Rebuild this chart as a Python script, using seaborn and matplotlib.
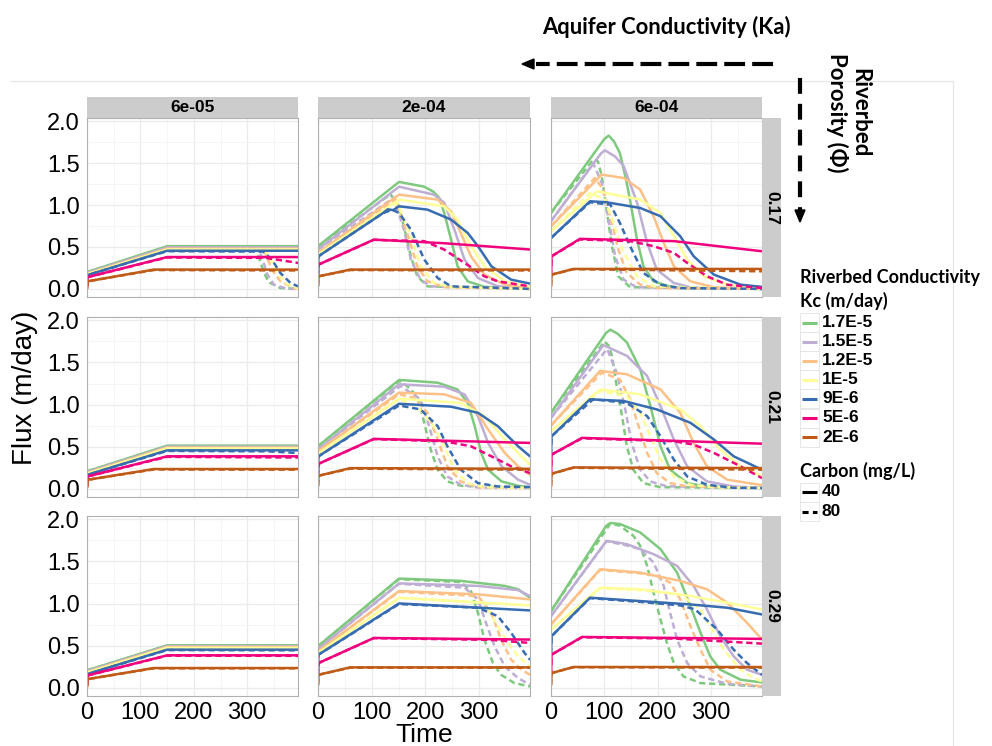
import numpy as np
import pandas as pd
import matplotlib.pyplot as plt
import seaborn as sns
from matplotlib.patches import Rectangle, Polygon

W, H = 992, 746

kc_levels = ["1.7E-5", "1.5E-5", "1.2E-5", "1E-5", "9E-6", "5E-6", "2E-6"]
kc_colors = ["#7FC97F", "#BEAED4", "#FDC086", "#FFFF99", "#386CB0", "#F0027F", "#BF5B17"]
carbon_levels = ["40", "80"]
ka_levels = ["6e-05", "2e-04", "6e-04"]
phi_levels = ["0.17", "0.21", "0.29"]

#! (time, flux) points, Kc -> points

# porosity 0.17
phi017_ka6e05_c40 = {
    "1.7E-5": [(0, 0.20), (150, 0.51), (395, 0.51)],
    "1.5E-5": [(0, 0.19), (150, 0.495), (395, 0.495)],
    "1.2E-5": [(0, 0.18), (150, 0.48), (395, 0.48)],
    "1E-5": [(0, 0.175), (150, 0.47), (395, 0.47)],
    "9E-6": [(0, 0.10), (1, 0.165), (150, 0.455), (395, 0.455)],
    "5E-6": [(0, 0.03), (1, 0.14), (150, 0.38), (395, 0.38)],
    "2E-6": [(0, 0.0), (1, 0.09), (125, 0.23), (395, 0.23)],
}
phi017_ka6e05_c80 = {
    "1.7E-5": [(0, 0.20), (150, 0.50), (315, 0.49), (321, 0.39), (331, 0.20), (340, 0.08), (362, 0.01), (395, 0.0)],
    "1.5E-5": [(0, 0.19), (150, 0.485), (320, 0.48), (328, 0.37), (337, 0.18), (350, 0.05), (375, 0.0), (395, 0.0)],
    "1.2E-5": [(0, 0.18), (150, 0.475), (325, 0.47), (334, 0.43), (346, 0.23), (362, 0.09), (387, 0.01), (395, 0.0)],
    "1E-5": [(0, 0.175), (150, 0.465), (330, 0.46), (340, 0.41), (356, 0.20), (371, 0.07), (393, 0.01), (395, 0.01)],
    "9E-6": [(0, 0.10), (1, 0.165), (150, 0.45), (330, 0.445), (346, 0.35), (362, 0.19), (381, 0.07), (395, 0.03)],
    "5E-6": [(0, 0.03), (1, 0.14), (150, 0.375), (335, 0.37), (395, 0.31)],
    "2E-6": [(0, 0.0), (1, 0.09), (125, 0.225), (395, 0.22)],
}
phi017_ka2e04_c40 = {
    "1.7E-5": [(0, 0.51), (151, 1.277), (198, 1.22), (215, 1.16), (226, 1.086), (235, 0.91), (248, 0.588), (260, 0.27), (279, 0.09), (310, 0.024), (395, 0.0)],
    "1.5E-5": [(0, 0.47), (151, 1.22), (216, 1.125), (235, 1.03), (254, 0.71), (273, 0.35), (298, 0.13), (335, 0.031), (395, 0.003)],
    "1.2E-5": [(0, 0.43), (151, 1.125), (223, 1.066), (248, 0.925), (266, 0.667), (285, 0.388), (310, 0.17), (348, 0.05), (395, 0.01)],
    "1E-5": [(0, 0.41), (151, 1.066), (235, 0.986), (260, 0.827), (285, 0.51), (310, 0.27), (348, 0.09), (395, 0.024)],
    "9E-6": [(0, 0.25), (1, 0.39), (120, 0.90), (130, 0.95), (140, 0.94), (151, 0.986), (204, 0.946), (248, 0.827), (279, 0.667), (298, 0.51), (323, 0.27), (360, 0.11), (395, 0.063)],
    "5E-6": [(0, 0.15), (1, 0.29), (104, 0.588), (235, 0.545), (395, 0.47)],
    "2E-6": [(0, 0.03), (1, 0.15), (60, 0.23), (395, 0.23)],
}
phi017_ka2e04_c80 = {
    "1.7E-5": [(0, 0.50), (135, 1.13), (151, 0.986), (163, 0.667), (173, 0.388), (185, 0.15), (204, 0.03), (395, 0.0)],
    "1.5E-5": [(0, 0.47), (141, 1.086), (160, 0.71), (173, 0.35), (191, 0.11), (210, 0.03), (395, 0.0)],
    "1.2E-5": [(0, 0.43), (145, 1.066), (166, 0.667), (185, 0.27), (204, 0.09), (235, 0.02), (395, 0.0)],
    "1E-5": [(0, 0.41), (148, 1.026), (173, 0.627), (191, 0.27), (216, 0.07), (248, 0.02), (395, 0.0)],
    "9E-6": [(0, 0.25), (1, 0.39), (120, 0.90), (138, 0.946), (151, 0.906), (173, 0.71), (198, 0.35), (223, 0.13), (248, 0.03), (395, 0.0)],
    "5E-6": [(0, 0.15), (1, 0.29), (104, 0.585), (198, 0.57), (235, 0.47), (273, 0.31), (310, 0.15), (335, 0.09), (395, 0.03)],
    "2E-6": [(0, 0.03), (1, 0.15), (60, 0.225), (395, 0.22)],
}
phi017_ka6e04_c40 = {
    "1.7E-5": [(0, 0.907), (100, 1.79), (108, 1.83), (118, 1.76), (129, 1.62), (140, 1.32), (148, 1.06), (161, 0.589), (173, 0.27), (192, 0.09), (230, 0.012), (395, 0.0)],
    "1.5E-5": [(0, 0.808), (94, 1.62), (101, 1.654), (120, 1.58), (136, 1.468), (161, 1.03), (180, 0.55), (198, 0.23), (230, 0.07), (267, 0.01), (395, 0.0)],
    "1.2E-5": [(0, 0.748), (95, 1.364), (136, 1.324), (167, 1.185), (192, 0.867), (211, 0.55), (230, 0.27), (261, 0.09), (305, 0.02), (395, 0.0)],
    "1E-5": [(0, 0.687), (86, 1.165), (167, 1.066), (205, 0.907), (230, 0.628), (255, 0.35), (286, 0.15), (330, 0.05), (395, 0.01)],
    "9E-6": [(0, 0.607), (73, 1.046), (104, 1.034), (167, 0.966), (205, 0.867), (242, 0.628), (267, 0.39), (305, 0.17), (355, 0.05), (395, 0.024)],
    "5E-6": [(0, 0.15), (1, 0.389), (54, 0.597), (230, 0.57), (395, 0.449)],
    "2E-6": [(0, 0.03), (1, 0.17), (42, 0.238), (395, 0.238)],
}
phi017_ka6e04_c80 = {
    "1.7E-5": [(0, 0.907), (80, 1.55), (88, 1.52), (95, 1.344), (104, 0.947), (114, 0.51), (126, 0.15), (148, 0.02), (395, 0.0)],
    "1.5E-5": [(0, 0.808), (79, 1.50), (95, 1.264), (108, 0.826), (120, 0.39), (136, 0.11), (160, 0.02), (395, 0.0)],
    "1.2E-5": [(0, 0.748), (82, 1.324), (98, 1.185), (111, 0.867), (126, 0.47), (142, 0.19), (167, 0.05), (198, 0.01), (395, 0.0)],
    "1E-5": [(0, 0.687), (73, 1.145), (101, 1.066), (117, 0.787), (136, 0.43), (161, 0.15), (192, 0.03), (395, 0.0)],
    "9E-6": [(0, 0.607), (73, 1.034), (111, 1.006), (129, 0.787), (148, 0.51), (173, 0.19), (205, 0.05), (242, 0.01), (395, 0.0)],
    "5E-6": [(0, 0.15), (1, 0.389), (54, 0.59), (148, 0.57), (192, 0.51), (230, 0.43), (255, 0.31), (292, 0.15), (330, 0.05), (395, 0.01)],
    "2E-6": [(0, 0.03), (1, 0.17), (42, 0.235), (395, 0.21)],
}

# porosity 0.21
phi021_ka6e05_c40 = {
    "1.7E-5": [(0, 0.207), (150, 0.513), (395, 0.513)],
    "1.5E-5": [(0, 0.197), (150, 0.50), (395, 0.50)],
    "1.2E-5": [(0, 0.187), (150, 0.49), (395, 0.49)],
    "1E-5": [(0, 0.18), (150, 0.48), (395, 0.48)],
    "9E-6": [(0, 0.10), (1, 0.167), (150, 0.457), (395, 0.457)],
    "5E-6": [(0, 0.03), (1, 0.147), (150, 0.386), (395, 0.386)],
    "2E-6": [(0, 0.01), (1, 0.107), (125, 0.235), (395, 0.235)],
}
phi021_ka6e05_c80 = {
    "1.7E-5": [(0, 0.207), (150, 0.505), (395, 0.50)],
    "1.5E-5": [(0, 0.197), (150, 0.495), (395, 0.49)],
    "1.2E-5": [(0, 0.187), (150, 0.485), (395, 0.48)],
    "1E-5": [(0, 0.18), (150, 0.475), (395, 0.47)],
    "9E-6": [(0, 0.10), (1, 0.167), (150, 0.45), (340, 0.445), (395, 0.425)],
    "5E-6": [(0, 0.03), (1, 0.147), (150, 0.38), (395, 0.372)],
    "2E-6": [(0, 0.01), (1, 0.107), (125, 0.23), (395, 0.228)],
}
phi021_ka2e04_c40 = {
    "1.7E-5": [(0, 0.505), (151, 1.293), (223, 1.26), (260, 1.18), (279, 1.02), (292, 0.744), (304, 0.426), (317, 0.227), (342, 0.088), (373, 0.036), (395, 0.02)],
    "1.5E-5": [(0, 0.466), (151, 1.241), (235, 1.213), (273, 1.122), (298, 0.863), (317, 0.545), (342, 0.267), (373, 0.108), (395, 0.048)],
    "1.2E-5": [(0, 0.446), (151, 1.142), (235, 1.122), (285, 1.02), (317, 0.704), (348, 0.426), (373, 0.267), (395, 0.167)],
    "1E-5": [(0, 0.418), (151, 1.07), (266, 1.02), (310, 0.863), (348, 0.585), (379, 0.386), (395, 0.287)],
    "9E-6": [(0, 0.25), (1, 0.386), (151, 1.01), (248, 0.975), (298, 0.903), (335, 0.744), (373, 0.505), (395, 0.386)],
    "5E-6": [(0, 0.15), (1, 0.297), (104, 0.593), (395, 0.545)],
    "2E-6": [(0, 0.03), (1, 0.155), (60, 0.246), (395, 0.238)],
}
phi021_ka2e04_c80 = {
    "1.7E-5": [(0, 0.505), (151, 1.28), (166, 1.221), (185, 1.10), (198, 0.783), (210, 0.466), (223, 0.227), (241, 0.088), (266, 0.036), (395, 0.01)],
    "1.5E-5": [(0, 0.466), (154, 1.221), (191, 1.063), (207, 0.744), (223, 0.386), (241, 0.147), (266, 0.048), (300, 0.015), (395, 0.01)],
    "1.2E-5": [(0, 0.446), (151, 1.122), (179, 1.082), (204, 0.903), (223, 0.585), (241, 0.267), (266, 0.088), (298, 0.02), (395, 0.01)],
    "1E-5": [(0, 0.418), (151, 1.063), (185, 0.983), (216, 0.744), (235, 0.505), (254, 0.227), (279, 0.068), (310, 0.02), (395, 0.01)],
    "9E-6": [(0, 0.25), (1, 0.386), (151, 0.99), (191, 0.943), (223, 0.744), (241, 0.505), (266, 0.227), (298, 0.068), (335, 0.028), (395, 0.02)],
    "5E-6": [(0, 0.15), (1, 0.297), (104, 0.59), (235, 0.565), (285, 0.505), (323, 0.386), (360, 0.267), (395, 0.187)],
    "2E-6": [(0, 0.03), (1, 0.155), (60, 0.24), (395, 0.227)],
}
phi021_ka6e04_c40 = {
    "1.7E-5": [(0, 0.903), (103, 1.85), (111, 1.89), (125, 1.84), (142, 1.738), (167, 1.42), (186, 0.983), (205, 0.505), (223, 0.227), (255, 0.068), (292, 0.028), (395, 0.01)],
    "1.5E-5": [(0, 0.843), (98, 1.706), (142, 1.579), (180, 1.34), (205, 0.983), (230, 0.585), (255, 0.267), (292, 0.088), (342, 0.028), (395, 0.01)],
    "1.2E-5": [(0, 0.752), (92, 1.40), (142, 1.36), (205, 1.18), (242, 0.903), (267, 0.545), (292, 0.267), (330, 0.108), (395, 0.044)],
    "1E-5": [(0, 0.684), (92, 1.18), (167, 1.122), (242, 0.943), (280, 0.744), (317, 0.466), (355, 0.267), (395, 0.147)],
    "9E-6": [(0, 0.40), (1, 0.624), (73, 1.063), (136, 1.043), (198, 0.943), (261, 0.784), (305, 0.585), (342, 0.386), (395, 0.227)],
    "5E-6": [(0, 0.15), (1, 0.406), (58, 0.605), (395, 0.536)],
    "2E-6": [(0, 0.03), (1, 0.179), (42, 0.254), (395, 0.246)],
}
phi021_ka6e04_c80 = {
    "1.7E-5": [(0, 0.903), (100, 1.75), (108, 1.70), (114, 1.579), (123, 1.22), (133, 0.863), (142, 0.505), (154, 0.227), (173, 0.068), (204, 0.02), (395, 0.01)],
    "1.5E-5": [(0, 0.843), (105, 1.66), (123, 1.38), (139, 0.943), (151, 0.545), (167, 0.227), (186, 0.088), (217, 0.03), (395, 0.01)],
    "1.2E-5": [(0, 0.752), (95, 1.38), (129, 1.30), (148, 1.063), (164, 0.744), (180, 0.426), (198, 0.187), (223, 0.068), (255, 0.03), (395, 0.01)],
    "1E-5": [(0, 0.684), (92, 1.16), (142, 1.10), (167, 0.903), (186, 0.624), (205, 0.346), (230, 0.147), (261, 0.048), (305, 0.02), (395, 0.01)],
    "9E-6": [(0, 0.40), (1, 0.624), (79, 1.063), (142, 1.02), (180, 0.863), (205, 0.624), (230, 0.346), (255, 0.147), (292, 0.048), (342, 0.012), (395, 0.01)],
    "5E-6": [(0, 0.15), (1, 0.406), (58, 0.60), (230, 0.565), (267, 0.525), (305, 0.426), (355, 0.267), (395, 0.127)],
    "2E-6": [(0, 0.03), (1, 0.179), (42, 0.25), (395, 0.227)],
}

# porosity 0.29
phi029_ka6e05_c40 = {
    "1.7E-5": [(0, 0.207), (150, 0.505), (395, 0.505)],
    "1.5E-5": [(0, 0.197), (150, 0.495), (395, 0.495)],
    "1.2E-5": [(0, 0.187), (150, 0.485), (395, 0.485)],
    "1E-5": [(0, 0.18), (150, 0.475), (395, 0.475)],
    "9E-6": [(0, 0.10), (1, 0.165), (150, 0.453), (395, 0.453)],
    "5E-6": [(0, 0.03), (1, 0.147), (150, 0.386), (395, 0.386)],
    "2E-6": [(0, 0.01), (1, 0.103), (125, 0.235), (395, 0.235)],
}
phi029_ka6e05_c80 = {
    "1.7E-5": [(0, 0.207), (150, 0.50), (395, 0.50)],
    "1.5E-5": [(0, 0.197), (150, 0.49), (395, 0.49)],
    "1.2E-5": [(0, 0.187), (150, 0.48), (395, 0.48)],
    "1E-5": [(0, 0.18), (150, 0.47), (395, 0.47)],
    "9E-6": [(0, 0.10), (1, 0.165), (150, 0.448), (395, 0.445)],
    "5E-6": [(0, 0.03), (1, 0.147), (150, 0.382), (395, 0.38)],
    "2E-6": [(0, 0.01), (1, 0.103), (125, 0.232), (395, 0.232)],
}
phi029_ka2e04_c40 = {
    "1.7E-5": [(0, 0.493), (151, 1.297), (266, 1.27), (348, 1.21), (373, 1.17), (395, 1.07)],
    "1.5E-5": [(0, 0.46), (151, 1.24), (298, 1.21), (373, 1.16), (395, 1.09)],
    "1.2E-5": [(0, 0.433), (151, 1.149), (298, 1.11), (395, 1.05)],
    "1E-5": [(0, 0.413), (151, 1.07), (395, 0.978)],
    "9E-6": [(0, 0.25), (1, 0.394), (151, 1.002), (395, 0.919)],
    "5E-6": [(0, 0.15), (1, 0.294), (104, 0.592), (395, 0.573)],
    "2E-6": [(0, 0.03), (1, 0.155), (60, 0.243), (395, 0.243)],
}
phi029_ka2e04_c80 = {
    "1.7E-5": [(0, 0.493), (151, 1.29), (266, 1.256), (285, 1.149), (298, 0.89), (310, 0.573), (326, 0.294), (341, 0.155), (366, 0.056), (395, 0.016)],
    "1.5E-5": [(0, 0.46), (151, 1.235), (273, 1.189), (298, 1.05), (313, 0.771), (329, 0.493), (348, 0.254), (373, 0.115), (395, 0.036)],
    "1.2E-5": [(0, 0.433), (151, 1.14), (298, 1.09), (323, 0.89), (341, 0.573), (360, 0.334), (379, 0.215), (395, 0.155)],
    "1E-5": [(0, 0.413), (151, 1.065), (310, 1.01), (335, 0.732), (354, 0.533), (373, 0.374), (395, 0.254)],
    "9E-6": [(0, 0.25), (1, 0.394), (151, 0.995), (298, 0.951), (335, 0.851), (360, 0.652), (385, 0.413), (395, 0.334)],
    "5E-6": [(0, 0.15), (1, 0.294), (104, 0.59), (320, 0.57), (395, 0.533)],
    "2E-6": [(0, 0.03), (1, 0.155), (60, 0.24), (395, 0.24)],
}
phi029_ka6e04_c40 = {
    "1.7E-5": [(0, 0.91), (103, 1.92), (111, 1.957), (129, 1.945), (167, 1.845), (205, 1.647), (236, 1.368), (261, 0.971), (280, 0.652), (298, 0.374), (317, 0.215), (355, 0.096), (395, 0.064)],
    "1.5E-5": [(0, 0.851), (104, 1.746), (142, 1.706), (192, 1.587), (236, 1.448), (267, 1.209), (292, 0.931), (317, 0.612), (342, 0.374), (367, 0.215), (395, 0.155)],
    "1.2E-5": [(0, 0.752), (92, 1.408), (167, 1.368), (242, 1.269), (292, 1.17), (330, 1.01), (367, 0.772), (395, 0.573)],
    "1E-5": [(0, 0.692), (92, 1.189), (167, 1.17), (261, 1.09), (330, 1.01), (395, 0.931)],
    "9E-6": [(0, 0.40), (1, 0.613), (73, 1.07), (167, 1.03), (261, 0.99), (330, 0.951), (395, 0.871)],
    "5E-6": [(0, 0.15), (1, 0.394), (58, 0.604), (395, 0.581)],
    "2E-6": [(0, 0.03), (1, 0.175), (42, 0.247), (395, 0.247)],
}
phi029_ka6e04_c80 = {
    "1.7E-5": [(0, 0.91), (111, 1.95), (129, 1.925), (154, 1.806), (167, 1.686), (180, 1.448), (192, 1.13), (205, 0.811), (217, 0.533), (230, 0.294), (248, 0.135), (280, 0.056), (395, 0.016)],
    "1.5E-5": [(0, 0.851), (104, 1.74), (142, 1.69), (167, 1.646), (192, 1.488), (211, 1.209), (223, 0.891), (236, 0.573), (255, 0.294), (280, 0.135), (330, 0.048), (395, 0.016)],
    "1.2E-5": [(0, 0.752), (92, 1.40), (167, 1.36), (198, 1.329), (223, 1.249), (242, 1.05), (261, 0.732), (280, 0.453), (298, 0.215), (330, 0.076), (395, 0.016)],
    "1E-5": [(0, 0.692), (92, 1.18), (167, 1.16), (242, 1.11), (280, 0.931), (305, 0.652), (323, 0.453), (355, 0.215), (380, 0.115), (395, 0.076)],
    "9E-6": [(0, 0.40), (1, 0.613), (73, 1.065), (167, 1.02), (242, 0.979), (270, 0.931), (311, 0.692), (342, 0.453), (367, 0.294), (395, 0.155)],
    "5E-6": [(0, 0.15), (1, 0.394), (58, 0.60), (230, 0.585), (395, 0.525)],
    "2E-6": [(0, 0.03), (1, 0.175), (42, 0.245), (395, 0.24)],
}

panels = {
    ("0.17", "6e-05"): (phi017_ka6e05_c40, phi017_ka6e05_c80),
    ("0.17", "2e-04"): (phi017_ka2e04_c40, phi017_ka2e04_c80),
    ("0.17", "6e-04"): (phi017_ka6e04_c40, phi017_ka6e04_c80),
    ("0.21", "6e-05"): (phi021_ka6e05_c40, phi021_ka6e05_c80),
    ("0.21", "2e-04"): (phi021_ka2e04_c40, phi021_ka2e04_c80),
    ("0.21", "6e-04"): (phi021_ka6e04_c40, phi021_ka6e04_c80),
    ("0.29", "6e-05"): (phi029_ka6e05_c40, phi029_ka6e05_c80),
    ("0.29", "2e-04"): (phi029_ka2e04_c40, phi029_ka2e04_c80),
    ("0.29", "6e-04"): (phi029_ka6e04_c40, phi029_ka6e04_c80),
}

rows = []
for (phi, ka), (c40, c80) in panels.items():
    for carbon, curves in (("40", c40), ("80", c80)):
        for kc, pts in curves.items():
            for t, f in pts:
                rows.append((phi, ka, kc, carbon, t, f))
df = pd.DataFrame(rows, columns=["phi", "ka", "kc", "carbon", "time", "flux"])

sns.set_style("white")
plt.rcParams["font.family"] = ["Liberation Sans", "DejaVu Sans"]
plt.rcParams["text.color"] = "black"
title_font = ["Lato", "DejaVu Sans"]

fig = plt.figure(figsize=(W / 100, H / 100), dpi=100)


def box(x0, y0, x1, y1):
    return [x0 / W, 1 - y1 / H, (x1 - x0) / W, (y1 - y0) / H]


col_px = [(87, 298), (318, 530), (551, 762)]
row_px = [(118, 297), (317, 497), (516, 696)]
strip_gray = "#CCCCCC"

for i, phi in enumerate(phi_levels):
    for j, ka in enumerate(ka_levels):
        x0, x1 = col_px[j]
        y0, y1 = row_px[i]
        ax = fig.add_axes(box(x0, y0, x1, y1))
        sub = df[(df.phi == phi) & (df.ka == ka)]
        sns.lineplot(data=sub, x="time", y="flux", hue="kc", hue_order=kc_levels,
                     palette=kc_colors, style="carbon", style_order=carbon_levels,
                     dashes={"40": "", "80": (2.5, 1.5)}, estimator=None, sort=False,
                     linewidth=1.8, legend=False, ax=ax)
        ax.set_xlim(0, 395)
        ax.set_ylim(-0.097, 2.04)
        ax.set_xticks([0, 100, 200, 300])
        ax.set_xticks([50, 150, 250, 350], minor=True)
        ax.set_yticks([0, 0.5, 1.0, 1.5, 2.0])
        ax.set_yticks([0.25, 0.75, 1.25, 1.75], minor=True)
        ax.grid(which="major", color="#EBEBEB", lw=0.9)
        ax.grid(which="minor", color="#F4F4F4", lw=0.6)
        ax.set_axisbelow(True)
        for s in ax.spines.values():
            s.set_color("#B0B0B0")
            s.set_linewidth(0.8)
        ax.set_xlabel("")
        ax.set_ylabel("")
        ax.tick_params(which="minor", length=0)
        ax.tick_params(which="major", length=4, width=0.8, color="#444444",
                       labelsize=17, labelcolor="black", pad=1)
        if j == 0:
            ax.set_yticklabels(["0.0", "0.5", "1.0", "1.5", "2.0"])
        else:
            ax.tick_params(axis="y", length=0, labelleft=False)
        if i != 2:
            ax.tick_params(axis="x", length=0, labelbottom=False)
        else:
            ax.tick_params(axis="x", pad=0)

        if i == 0:
            sax = fig.add_axes(box(x0, 97, x1, y0))
            sax.set_facecolor(strip_gray)
            sax.set_xticks([])
            sax.set_yticks([])
            for s in sax.spines.values():
                s.set_visible(False)
            sax.text(0.5, 0.5, ka, ha="center", va="center", fontsize=12.5, color="black",
                     fontweight="bold", family=["Liberation Sans"], transform=sax.transAxes)
        if j == 2:
            rax = fig.add_axes(box(x1, y0, 781, y1))
            rax.set_facecolor(strip_gray)
            rax.set_xticks([])
            rax.set_yticks([])
            for s in rax.spines.values():
                s.set_visible(False)
            rax.text(0.5, 0.5, phi, ha="center", va="center", rotation=-90, color="black",
                     fontsize=12.5, fontweight="bold", family=["Liberation Sans"],
                     transform=rax.transAxes)

# overlay for titles, arrows and legend
ov = fig.add_axes([0, 0, 1, 1])
ov.set_xlim(0, W)
ov.set_ylim(H, 0)
ov.axis("off")

ov.plot([10, 953], [81, 81], color="#E6E6E6", lw=0.8)
ov.plot([953, 953], [81, H], color="#E6E6E6", lw=0.8)

ov.text(25, 388, "Flux (m/day)", rotation=90, ha="center", va="center", fontsize=20)
ov.text(424, 747, "Time", ha="center", va="bottom", fontsize=19)

ov.text(666, 27, "Aquifer Conductivity (Ka)", ha="center", va="center",
        fontsize=15.8, fontweight="bold", family=title_font)
ov.plot([773, 536], [64, 64], color="black", lw=3, ls=(0, (5, 1.7)), solid_capstyle="butt")
ov.add_patch(Polygon([[522, 64], [534, 59], [534, 69]], closed=True, color="black"))

ov.text(848, 113, "Riverbed\nPorosity (\u03a6)", rotation=-90, ha="center", va="center",
        fontsize=16, fontweight="bold", family=title_font, linespacing=1.1)
ov.plot([800, 800], [78, 210], color="black", lw=3, ls=(0, (3.8, 2.4)), solid_capstyle="butt")
ov.add_patch(Polygon([[800, 222], [795, 210], [805, 210]], closed=True, color="black"))

# legend
ov.text(800, 277, "Riverbed Conductivity", ha="left", va="center", fontsize=13,
        fontweight="bold", family=title_font)
ov.text(800, 301, "Kc (m/day)", ha="left", va="center", fontsize=13,
        fontweight="bold", family=title_font)
for k, (lab, col) in enumerate(zip(kc_levels, kc_colors)):
    yc = 322.5 + k * 19.1
    ov.add_patch(Rectangle((800, yc - 9.5), 19, 19, facecolor="white", edgecolor="#E3E3E3", lw=0.6))
    ov.plot([802, 817], [yc, yc], color=col, lw=2.2, solid_capstyle="butt")
    ov.text(822, yc, lab, ha="left", va="center", fontsize=12.5, fontweight="bold")

ov.text(800, 471, "Carbon (mg/L)", ha="left", va="center", fontsize=13,
        fontweight="bold", family=title_font)
for k, lab in enumerate(carbon_levels):
    yc = 492 + k * 19.5
    ov.add_patch(Rectangle((800, yc - 9.5), 19, 19, facecolor="white", edgecolor="#E3E3E3", lw=0.6))
    ls = "-" if lab == "40" else (0, (2.0, 1.4))
    ov.plot([802, 817], [yc, yc], color="black", lw=2.2, ls=ls, solid_capstyle="butt")
    ov.text(822, yc, lab, ha="left", va="center", fontsize=12.5, fontweight="bold")

fig.savefig("out.png", dpi=100)
